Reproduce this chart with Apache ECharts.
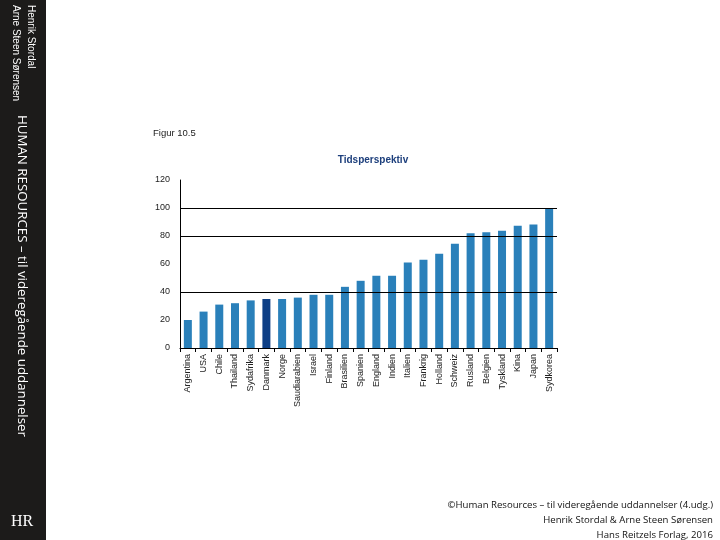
<!DOCTYPE html>
<html><head><meta charset="utf-8">
<script src="https://cdn.jsdelivr.net/npm/echarts@6/dist/echarts.min.js"></script>
<style>html,body{margin:0;padding:0;background:#fff}#c{width:720px;height:540px}</style>
</head><body><div id="c"></div>
<script>
const categories = ['Argentina','USA','Chile','Thailand','Sydafrika','Danmark','Norge','Saudiarabien','Israel','Finland','Brasilien','Spanien','England','Indien','Italien','Frankrig','Holland','Schweiz','Rusland','Belgien','Tyskland','Kina','Japan','Sydkorea'];
const values = [20,26,31,32,34,35,35,36,38,38,43.7,48,51.6,51.6,61,63,67.3,74.5,81.9,82.6,83.8,87.4,88.3,100];
const highlighted = 'Danmark';
const gridValues = [100,80,40];
const footerLines = ['©Human Resources – til videregående uddannelser (4.udg.)','Henrik Stordal & Arne Steen Sørensen','Hans Reitzels Forlag, 2016'];

const chart = echarts.init(document.getElementById('c'));
const font = 'Liberation Sans, Arial, sans-serif';
chart.setOption({
  animation:false,
  backgroundColor:'#fff',
  title:{text:'Tidsperspektiv',left:368,textAlign:'center',top:150,textStyle:{fontFamily:font,fontSize:10,fontWeight:'bold',color:'#1d3f7c'}},
  grid:{left:180,right:163,top:180,bottom:192,containLabel:false},
  xAxis:{type:'category',data:categories,
    axisLine:{lineStyle:{color:'#000',width:1}},
    axisTick:{show:true,alignWithLabel:false,length:4,lineStyle:{color:'#000'}},
    axisLabel:{rotate:90,interval:0,fontSize:9,fontFamily:font,color:'#222',margin:6}},
  yAxis:{type:'value',min:0,max:120,interval:20,
    axisLine:{show:true,lineStyle:{color:'#000',width:1}},
    axisTick:{show:false},
    splitLine:{show:false},
    axisLabel:{fontSize:9,fontFamily:font,color:'#222',margin:10}},
  series:[{type:'bar',barWidth:8,
    data:values.map((v,i)=>({value:v,itemStyle:{color:categories[i]===highlighted?'#0e3f86':'#2a80ba'}})),
    markLine:{silent:true,symbol:'none',label:{show:false},lineStyle:{color:'#000',width:1,type:'solid'},
      data:gridValues.map(v=>({yAxis:v}))}
  }],
  graphic:[
    {type:'rect',left:0,top:0,shape:{width:46,height:540},style:{fill:'#1c1b1a'}},
    {type:'text',x:31,y:5,rotation:-Math.PI/2,style:{text:'Henrik Stordal',fill:'#fff',font:'10px '+font,textAlign:'left',textVerticalAlign:'middle'}},
    {type:'text',x:16,y:5,rotation:-Math.PI/2,style:{text:'Arne Steen Sørensen',fill:'#fff',font:'10px '+font,textAlign:'left',textVerticalAlign:'middle'}},
    {type:'text',x:22,y:115,rotation:-Math.PI/2,style:{text:'HUMAN RESOURCES – til videregående uddannelser',fill:'#fff',font:'13.3px Open Sans, sans-serif',textAlign:'left',textVerticalAlign:'middle'}},
    {type:'text',x:22,y:522,style:{text:'HR',fill:'#fff',font:'16px Liberation Serif, serif',textAlign:'center',textVerticalAlign:'middle'}},
    {type:'text',x:153,y:133,style:{text:'Figur 10.5',fill:'#222',font:'9.5px '+font,textAlign:'left',textVerticalAlign:'middle'}},
    {type:'text',x:713,y:505,style:{text:footerLines[0],fill:'#111',font:'9.6px Open Sans, sans-serif',textAlign:'right',textVerticalAlign:'middle'}},
    {type:'text',x:713,y:520,style:{text:footerLines[1],fill:'#111',font:'9.6px Open Sans, sans-serif',textAlign:'right',textVerticalAlign:'middle'}},
    {type:'text',x:713,y:535,style:{text:footerLines[2],fill:'#111',font:'9.6px Open Sans, sans-serif',textAlign:'right',textVerticalAlign:'middle'}}
  ]
});
</script></body></html>
